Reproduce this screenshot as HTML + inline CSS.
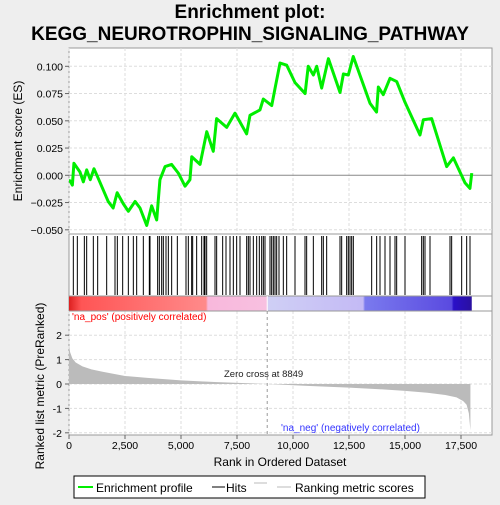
<!DOCTYPE html>
<html><head><meta charset="utf-8"><style>
body{margin:0;background:#eeeeee;font-family:"Liberation Sans",sans-serif}
svg text{font-family:"Liberation Sans",sans-serif}
</style></head><body>
<svg id="c" width="500" height="500" xmlns="http://www.w3.org/2000/svg">
<rect width="500" height="500" fill="#eeeeee"/>
<text x="250" y="18" text-anchor="middle" font-size="19" font-weight="bold">Enrichment plot:</text>
<text x="250" y="40" text-anchor="middle" font-size="19" font-weight="bold">KEGG_NEUROTROPHIN_SIGNALING_PATHWAY</text>
<rect x="69" y="48" width="423" height="387" fill="#fff" stroke="#999"/>
<g id="grid"></g>
<g id="es"></g>
<g id="hits"></g>
<defs><linearGradient id="cg" x1="0" x2="1">
<stop offset="0" stop-color="#dd2020"/><stop offset="0.03" stop-color="#ff5555"/><stop offset="0.34" stop-color="#ff8a8a"/>
<stop offset="0.345" stop-color="#f8b8dc"/><stop offset="0.49" stop-color="#f8c0e0"/><stop offset="0.495" stop-color="#cfcff5"/>
<stop offset="0.73" stop-color="#c4baf5"/><stop offset="0.735" stop-color="#7a7aee"/><stop offset="0.95" stop-color="#5a4ae0"/>
<stop offset="0.955" stop-color="#2a10c8"/><stop offset="1" stop-color="#2a10a0"/></linearGradient></defs>
<rect id="cbar" y="296" height="15" fill="url(#cg)"/>
<line x1="69" x2="492" y1="234" y2="234" stroke="#999"/>
<line x1="69" x2="492" y1="296" y2="296" stroke="#999"/>
<line x1="69" x2="492" y1="311" y2="311" stroke="#999"/>
<g id="metric"></g>
<text x="72" y="320" font-size="10" fill="#ff0000">'na_pos' (positively correlated)</text>
<text x="281" y="431" font-size="10" fill="#3333ff">'na_neg' (negatively correlated)</text>
<text x="224" y="377" font-size="9.5" fill="#222">Zero cross at 8849</text>
<text transform="translate(22,141) rotate(-90)" text-anchor="middle" font-size="12">Enrichment score (ES)</text>
<text transform="translate(44,386) rotate(-90)" text-anchor="middle" font-size="12">Ranked list metric (PreRanked)</text>
<text x="280" y="466" text-anchor="middle" font-size="12">Rank in Ordered Dataset</text>
<g>
<rect x="74" y="476" width="351" height="22" fill="#fff" stroke="#000"/>
<line x1="78" x2="93" y1="487" y2="487" stroke="#00ee00" stroke-width="2"/>
<text x="96" y="492" font-size="12">Enrichment profile</text>
<line x1="212" x2="225" y1="487" y2="487" stroke="#000"/>
<text x="226" y="492" font-size="12">Hits</text>
<line x1="254" x2="267" y1="483" y2="483" stroke="#bbb"/>
<line x1="277" x2="291" y1="487" y2="487" stroke="#bbb"/>
<text x="295" y="492" font-size="12">Ranking metric scores</text>
</g>
</svg>
<script>
const esRanks=[0,45,150,220,490,640,790,950,1115,1310,1750,1970,2150,2420,2650,2950,3170,3470,3690,3915,4060,4290,4580,4880,5180,5400,5480,5850,6150,6440,6590,7040,7410,7930,8080,8525,8675,9050,9200,9420,9720,10090,10540,10680,10910,11060,11280,11580,12100,12250,12470,12690,13440,13730,13810,14030,14330,14630,15000,15670,15820,16190,16860,17160,17680,17900,17980];
const esValues=[-0.005,-0.005,-0.009,0.011,0.003,-0.006,0.005,-0.004,0.006,-0.003,-0.024,-0.030,-0.016,-0.026,-0.033,-0.024,-0.030,-0.046,-0.028,-0.041,-0.004,0.008,0.010,0.002,-0.010,-0.004,0.017,0.010,0.040,0.022,0.052,0.044,0.057,0.038,0.055,0.060,0.070,0.064,0.080,0.103,0.101,0.085,0.075,0.100,0.092,0.100,0.080,0.107,0.076,0.093,0.092,0.109,0.066,0.058,0.081,0.074,0.089,0.086,0.067,0.037,0.051,0.052,0.008,0.016,-0.007,-0.012,0.002];
const hitRanks=[193,372,685,789,1086,1280,1682,2054,2158,2396,2649,2872,3021,3318,3586,3616,3958,4033,4137,4211,4330,4435,4583,4836,5223,5327,5476,5521,5699,5923,6027,6071,6146,6518,6592,6860,7009,7188,7336,7485,7634,7932,8006,8080,8229,8378,8497,8601,8676,8750,8973,9048,9122,9196,9271,9375,9568,9717,10089,10536,10610,10908,11280,11354,11503,12098,12173,12396,12470,12545,12619,12693,13512,13735,13884,14107,14330,14554,14628,15000,15744,15818,15893,16116,17009,17083,17530,17753,17902];
const metricRanks=[0,50,150,300,600,1000,1500,2500,3500,5000,6500,8849,10500,12500,14000,15000,16000,16800,17300,17600,17750,17850,17920];
const metricValues=[1.6,1.3,1.05,0.88,0.72,0.6,0.5,0.33,0.25,0.15,0.08,0,-0.07,-0.15,-0.22,-0.28,-0.36,-0.45,-0.55,-0.7,-0.85,-1.2,-1.9];
const esTicks=[0.1,0.075,0.05,0.025,0,-0.025,-0.05];
const esTickLabels=["0.100","0.075","0.050","0.025","0.000","\u22120.025","\u22120.050"];
const xTicks=[0,2500,5000,7500,10000,12500,15000,17500];
const xTickLabels=["0","2,500","5,000","7,500","10,000","12,500","15,000","17,500"];
const mTicks=[2,1,0,-1,-2];
const totalRanks=17980, zeroCross=8849;
const NS="http://www.w3.org/2000/svg";
const X=r=>69+r*0.0224;
const YE=v=>175.3-v*1090;
const YM=v=>384-v*24.4;
function mk(t,a,p){const e=document.createElementNS(NS,t);for(const k in a)e.setAttribute(k,a[k]);p.appendChild(e);return e;}
const svg=document.getElementById('c'),grid=document.getElementById('grid');
xTicks.forEach((t,i)=>{
 const l=mk('line',{x1:X(t),x2:X(t),y1:48,y2:234,stroke:'#ddd','stroke-dasharray':'3,2'},grid);
 
 
 mk('line',{x1:X(t),x2:X(t),y1:311,y2:435,stroke:'#ddd','stroke-dasharray':'3,2'},grid);
 mk('line',{x1:X(t),x2:X(t),y1:435,y2:439,stroke:'#666'},grid);
 const tx=mk('text',{x:X(t),y:449,'text-anchor':'middle','font-size':'10.5'},svg);
 tx.textContent=xTickLabels[i];
 
 
});
esTicks.forEach((t,i)=>{
 mk('line',{x1:69,x2:492,y1:YE(t),y2:YE(t),stroke:t===0?'#888':'#ddd','stroke-dasharray':t===0?'':'3,2'},grid);
 mk('line',{x1:65,x2:69,y1:YE(t),y2:YE(t),stroke:'#666'},grid);
 const tx=mk('text',{x:63,y:YE(t)+4,'text-anchor':'end','font-size':'10.5'},svg);
 tx.textContent=esTickLabels[i];
 
 
});
mTicks.forEach(t=>{
 mk('line',{x1:69,x2:492,y1:YM(t),y2:YM(t),stroke:'#ddd','stroke-dasharray':'3,2'},grid);
 mk('line',{x1:65,x2:69,y1:YM(t),y2:YM(t),stroke:'#666'},grid);
 const tx=mk('text',{x:62,y:YM(t)+4,'text-anchor':'end','font-size':'10.5'},svg);
 tx.textContent=String(t);
 
 
});
document.getElementById('cbar').setAttribute('x',X(0));
document.getElementById('cbar').setAttribute('width',X(totalRanks)-X(0));
const esLine=mk('polyline',{points:esRanks.map((r,i)=>X(r)+','+YE(esValues[i])).join(' '),fill:'none',stroke:'#00ee00','stroke-width':3,'stroke-linejoin':'round'},document.getElementById('es'));


const hg=document.getElementById('hits');
hitRanks.forEach(r=>{
 const l=mk('line',{x1:X(r),x2:X(r),y1:236,y2:295,stroke:'#000','stroke-width':1},hg);
 
 
});
let pts=X(0)+','+YM(0)+' ';
metricRanks.forEach((r,i)=>pts+=X(r)+','+YM(metricValues[i])+' ');
pts+=X(metricRanks[metricRanks.length-1])+','+YM(0);
const area=mk('polygon',{points:pts,fill:'#bbbbbb'},document.getElementById('metric'));


const zc=mk('line',{x1:X(zeroCross),x2:X(zeroCross),y1:311,y2:435,stroke:'#999','stroke-dasharray':'3,3'},svg);


mk('line',{x1:X(zeroCross),x2:X(zeroCross),y1:296,y2:311,stroke:'#fff'},svg);
</script>
</body></html>
